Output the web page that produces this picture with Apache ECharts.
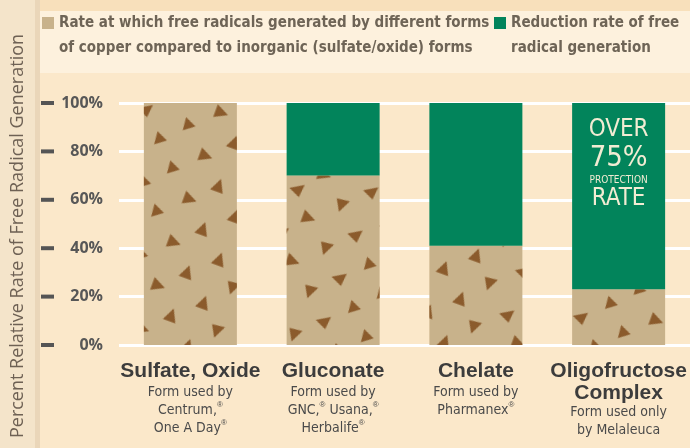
<!DOCTYPE html>
<html>
<head>
<meta charset="utf-8">
<script src="https://cdn.jsdelivr.net/npm/echarts@6/dist/echarts.min.js"></script>
<style>
  html, body { margin: 0; padding: 0; background: #fbe8ca; }
  #chart { width: 690px; height: 448px; }
</style>
</head>
<body>
<div id="chart"></div>
<script>
  // categories and the small print under each bar
  const catTitles = [['Sulfate, Oxide'], ['Gluconate'], ['Chelate'], ['Oligofructose', 'Complex']];
  const catNotes = [
    ['Form used by', 'Centrum,{r|®}', 'One A Day{r|®}'],
    ['Form used by', 'GNC,{r|®} Usana,{r|®}', 'Herbalife{r|®}'],
    ['Form used by', 'Pharmanex{r|®}'],
    ['Form used only', 'by Melaleuca']
  ];
  // series values (percent)
  const rateValues = [100, 70, 41, 23];
  const reductionValues = [0, 30, 59, 77];
  const yTicks = [0, 20, 40, 60, 80, 100];

  const rateName = 'Rate at which free radicals generated by different forms\nof copper compared to inorganic (sulfate/oxide) forms';
  const reductionName = 'Reduction rate of free\nradical generation';
  const yTitle = 'Percent Relative Rate of Free Radical Generation';
  const badge = ['OVER', '75%', 'PROTECTION', 'RATE'];

  const TAN = '#c8b28b';
  const GREEN = '#02845b';
  const COND = '"DejaVu Sans Condensed", "Liberation Sans", sans-serif';

  function catLabel(v, i) {
    const t = catTitles[i].map(function (s, k) { return (k === 0 ? '{b|' : '{c|') + s + '}'; });
    const n = catNotes[i].map(function (s) { return '{s|' + s.replace(/\{r\|®\}/g, '}{r|®}{s|') + '}'; });
    return t.concat(n).join('\n');
  }

  // empty first line keeps the legend square level with the first text line
  function legendLabel(name) {
    return '{e| }\n{a|' + name.split('\n').join('}\n{a|') + '}';
  }

  const chart = echarts.init(document.getElementById('chart'));

  const legendText = {
    rich: {
      e: { fontSize: 10, lineHeight: 25 },
      a: { fontFamily: COND, fontWeight: 'bold', fontSize: 15, color: '#6e6456', lineHeight: 25 }
    }
  };

  chart.setOption({
    backgroundColor: '#fbe8ca',
    animation: false,
    graphic: [
      { type: 'rect', z: -10, shape: { x: 0, y: 0, width: 690, height: 11 }, style: { fill: '#f8e0bb' } },
      { type: 'rect', z: -10, shape: { x: 40, y: 11, width: 650, height: 62 }, style: { fill: '#fdf1dd' } },
      { type: 'rect', z: -9, shape: { x: 0, y: 0, width: 36, height: 448 }, style: { fill: '#f4e4ca' } },
      { type: 'rect', z: -9, shape: { x: 35, y: 0, width: 5, height: 448 }, style: { fill: '#ead6b9' } },
      {
        type: 'text', z: 5, x: 18, y: 236, rotation: Math.PI / 2,
        style: {
          text: yTitle, align: 'center', verticalAlign: 'middle',
          font: '18px "Open Sans"', fill: '#6e6154'
        }
      }
    ],
    legend: [
      {
        left: 42, top: -7, padding: 0, icon: 'rect', itemWidth: 12, itemHeight: 12, itemGap: 4,
        selectedMode: false, data: [rateName], formatter: legendLabel, textStyle: legendText
      },
      {
        left: 494, top: -7, padding: 0, icon: 'rect', itemWidth: 12, itemHeight: 12, itemGap: 4,
        selectedMode: false, data: [reductionName], formatter: legendLabel, textStyle: legendText
      }
    ],
    grid: { left: 119, right: 0, top: 103, bottom: 103 },
    xAxis: {
      type: 'category',
      data: catTitles.map(function (t) { return t.join(' '); }),
      axisLine: { show: false },
      axisTick: { show: false },
      axisLabel: {
        margin: 14,
        interval: 0,
        formatter: catLabel,
        rich: {
          b: { fontFamily: 'Liberation Sans', fontWeight: 'bold', fontSize: 21, color: '#3c3c3c', lineHeight: 24 },
          c: { fontFamily: 'Liberation Sans', fontWeight: 'bold', fontSize: 21, color: '#3c3c3c', lineHeight: 20 },
          s: { fontFamily: COND, fontSize: 14, color: '#4a4a4a', lineHeight: 18 },
          r: { fontFamily: 'Liberation Sans', fontSize: 8, color: '#4a4a4a', lineHeight: 18, verticalAlign: 'top' }
        }
      }
    },
    yAxis: {
      type: 'value',
      min: 0,
      max: 100,
      interval: 20,
      axisLine: { show: false },
      axisTick: { show: false },
      splitLine: { lineStyle: { color: '#ffffff', width: 3 } },
      axisLabel: {
        margin: 16,
        formatter: function (v) { return yTicks.indexOf(v) >= 0 ? '{d|}{v|' + v + '%}' : ''; },
        rich: {
          d: { width: 13, height: 4, backgroundColor: '#555555' },
          v: { width: 49, align: 'right', fontFamily: 'Open Sans', fontWeight: 'bold', fontSize: 16, color: '#575757' }
        }
      }
    },
    series: [
      {
        name: rateName,
        type: 'bar',
        stack: 'total',
        barWidth: 93,
        data: rateValues,
        itemStyle: {
          color: TAN,
          decal: {
            symbol: [
              'path://M0,0L10,5L0,10Z',
              'path://M5,0L10,10L0,10Z',
              'path://M10,0L0,6L9,10Z',
              'path://M0,1L10,0L5,10Z',
              'path://M1,0L10,4L2,10Z'
            ],
            symbolSize: 0.95,
            symbolKeepAspect: true,
            color: '#8b5b2c',
            dashArrayX: [[14, 34], [0, 22, 14, 12]],
            dashArrayY: [14, 9],
            rotation: 0.35
          }
        }
      },
      {
        name: reductionName,
        type: 'bar',
        stack: 'total',
        barWidth: 93,
        itemStyle: { color: GREEN },
        data: reductionValues.map(function (v, i) {
          if (i !== reductionValues.length - 1) return v;
          return {
            value: v,
            label: {
              show: true,
              position: 'insideTop',
              distance: 14,
              color: '#f2ecd3',
              formatter: '{o|' + badge[0] + '}\n{n|' + badge[1] + '}\n{p|' + badge[2] + '}\n{r|' + badge[3] + '}',
              rich: {
                o: { fontFamily: COND, fontSize: 24, lineHeight: 26, color: '#f2ecd3' },
                n: { fontFamily: COND, fontSize: 29, lineHeight: 30, color: '#f2ecd3' },
                p: { fontFamily: COND, fontSize: 10, lineHeight: 14, color: '#f2ecd3' },
                r: { fontFamily: COND, fontSize: 24, lineHeight: 24, color: '#f2ecd3' }
              }
            }
          };
        })
      }
    ]
  });
</script>
</body>
</html>
